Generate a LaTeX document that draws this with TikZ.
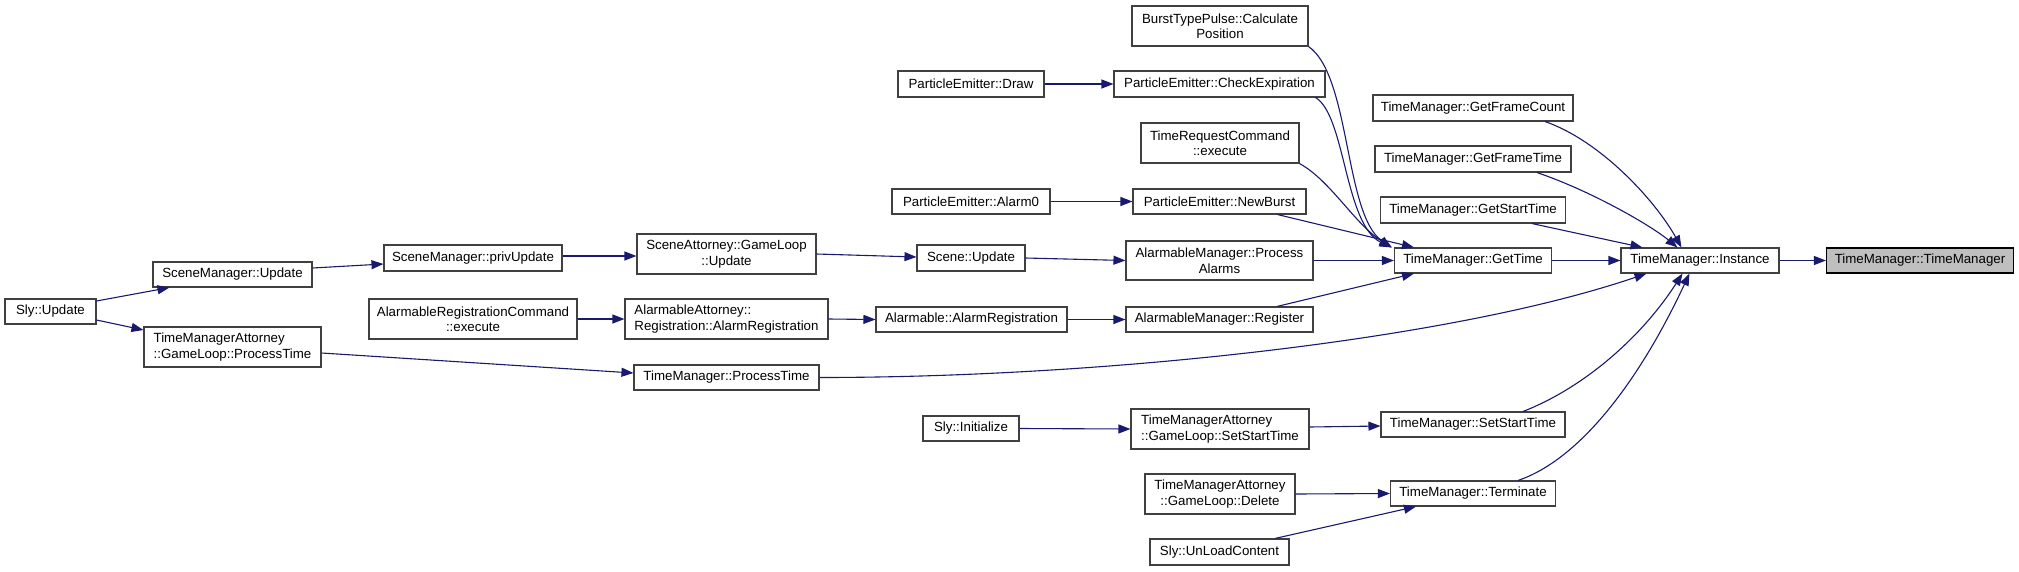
\documentclass[tikz,border=0pt]{standalone}
\usepackage{fontspec}
\setmainfont{Liberation Sans}
\usetikzlibrary{arrows.meta}
\definecolor{edgeblue}{HTML}{191970}
\definecolor{boxgray}{HTML}{404040}
\definecolor{rootfill}{HTML}{BFBFBF}
\tikzset{
  fnbox/.style={draw=boxgray, line width=1.1pt, fill=white, inner sep=0pt, align=center,
    font=\fontsize{13.3}{15.5}\selectfont},
  rootbox/.style={fnbox, draw=black, fill=rootfill},
  edge/.style={draw=edgeblue, line width=1.1pt, -{Triangle[length=12pt,width=9pt]}}
}
\begin{document}
\begin{tikzpicture}[x=1pt,y=-1pt]
\useasboundingbox (0,0) rectangle (2019,571);
% column 1
\node[fnbox, minimum width=91pt, minimum height=25pt] (slyupd) at (50.5,311.5) {Sly::Update};
% column 2
\node[fnbox, minimum width=159pt, minimum height=25pt] (smupd) at (232.5,274.5) {SceneManager::Update};
\node[fnbox, align=left, minimum width=177pt, minimum height=40pt] (tmapt) at (232.5,347) {TimeManagerAttorney\\::GameLoop::ProcessTime};
% column 3
\node[fnbox, minimum width=178pt, minimum height=26pt] (smpriv) at (473,258) {SceneManager::privUpdate};
\node[fnbox, minimum width=208pt, minimum height=40pt] (arce) at (473,319) {AlarmableRegistrationCommand\\::execute};
% column 4
\node[fnbox, minimum width=179pt, minimum height=40pt] (sagl) at (726.5,254) {SceneAttorney::GameLoop\\::Update};
\node[fnbox, align=left, minimum width=203pt, minimum height=40pt] (aara) at (726.5,319) {AlarmableAttorney::\\Registration::AlarmRegistration};
\node[fnbox, minimum width=185pt, minimum height=25pt] (tmpt) at (726.5,377.5) {TimeManager::ProcessTime};
% column 5
\node[fnbox, minimum width=146pt, minimum height=26pt] (pedraw) at (971,84) {ParticleEmitter::Draw};
\node[fnbox, minimum width=158pt, minimum height=25pt] (pea0) at (971,201.5) {ParticleEmitter::Alarm0};
\node[fnbox, minimum width=108pt, minimum height=26pt] (scupd) at (971,258) {Scene::Update};
\node[fnbox, minimum width=191pt, minimum height=25pt] (aar) at (971.5,319.5) {Alarmable::AlarmRegistration};
\node[fnbox, minimum width=96pt, minimum height=25pt] (slyinit) at (971,428.5) {Sly::Initialize};
% column 6
\node[fnbox, minimum width=176pt, minimum height=40pt] (btp) at (1220,26) {BurstTypePulse::Calculate\\Position};
\node[fnbox, minimum width=211pt, minimum height=26pt] (pece) at (1219.5,84) {ParticleEmitter::CheckExpiration};
\node[fnbox, minimum width=158pt, minimum height=40pt] (trce) at (1220,143) {TimeRequestCommand\\::execute};
\node[fnbox, minimum width=173pt, minimum height=25pt] (penb) at (1219.5,201.5) {ParticleEmitter::NewBurst};
\node[fnbox, minimum width=187pt, minimum height=39pt] (ampa) at (1219.5,260.5) {AlarmableManager::Process\\Alarms};
\node[fnbox, minimum width=187pt, minimum height=25pt] (amreg) at (1219.5,319.5) {AlarmableManager::Register};
\node[fnbox, align=left, minimum width=178pt, minimum height=40pt] (tmasst) at (1220,429) {TimeManagerAttorney\\::GameLoop::SetStartTime};
\node[fnbox, minimum width=150pt, minimum height=40pt] (tmadel) at (1220,494) {TimeManagerAttorney\\::GameLoop::Delete};
\node[fnbox, minimum width=139pt, minimum height=26pt] (slyunl) at (1219.5,552) {Sly::UnLoadContent};
% column 7
\node[fnbox, minimum width=200pt, minimum height=26pt] (gfc) at (1473,108) {TimeManager::GetFrameCount};
\node[fnbox, minimum width=196pt, minimum height=26pt] (gft) at (1473,159) {TimeManager::GetFrameTime};
\node[fnbox, minimum width=185pt, minimum height=26pt] (gst) at (1473,210) {TimeManager::GetStartTime};
\node[fnbox, minimum width=157pt, minimum height=25pt] (gt) at (1473,260.5) {TimeManager::GetTime};
\node[fnbox, minimum width=184pt, minimum height=25pt] (sst) at (1473,424.5) {TimeManager::SetStartTime};
\node[fnbox, minimum width=165pt, minimum height=25pt] (term) at (1473,493.5) {TimeManager::Terminate};
% column 8, 9
\node[fnbox, minimum width=158pt, minimum height=25pt] (inst) at (1700,260.5) {TimeManager::Instance};
\node[rootbox, minimum width=187pt, minimum height=25pt] (tmtm) at (1920,260.5) {TimeManager::TimeManager};
% edges
\draw[edge] ([yshift=10.5pt]slyupd.east) -- ([xshift=17pt]smupd.south west);
\draw[edge] ([yshift=-8.5pt]slyupd.east) -- ([yshift=17pt]tmapt.west);
\draw[edge] ([yshift=6.5pt]smupd.east) -- ([yshift=-6pt]smpriv.west);
\draw[edge] ([yshift=2pt]smpriv.east) -- ([yshift=-2pt]sagl.west);
\draw[edge] (sagl.east) -- ([yshift=1pt]scupd.west);
\draw[edge] (scupd.east) -- (ampa.west);
\draw[edge] (ampa.east) -- (gt.west);
\draw[edge] (arce.east) -- (aara.west);
\draw[edge] (aara.east) -- (aar.west);
\draw[edge] (aar.east) -- (amreg.west);
\draw[edge] ([xshift=57.5pt]amreg.north) -- ([xshift=20pt]gt.south west);
\draw[edge] ([yshift=-6pt]tmapt.east) -- ([yshift=4.5pt]tmpt.west);
\draw[edge] (tmpt.east) .. controls +(281,0) and +(-197,67) .. ([xshift=26pt]inst.south west);
\draw[edge] (pedraw.east) -- (pece.west);
\draw[edge] (btp.south east) .. controls +(42,29) and +(-47,-33) .. ([xshift=-2.6pt]gt.north west);
\draw[edge] ([xshift=-10pt]pece.south east) .. controls +(30,18) and +(-47,-23) .. ([xshift=-2.6pt]gt.north west);
\draw[edge] (trce.south east) .. controls +(31,17) and +(-37,-23) .. ([xshift=-2pt]gt.north west);
\draw[edge] (pea0.east) -- (penb.west);
\draw[edge] ([xshift=-29pt]penb.south east) -- ([xshift=20pt]gt.north west);
\draw[edge] ([xshift=72pt]gfc.south) .. controls +(55,19) and +(-27,-48) .. ([xshift=61pt]inst.north west);
\draw[edge] ([xshift=64pt]gft.south) .. controls +(53,18) and +(-28,-23) .. ([xshift=57pt]inst.north west);
\draw[edge] ([xshift=59pt]gst.south) -- ([xshift=22pt]inst.north west);
\draw[edge] (gt.east) -- (inst.west);
\draw[edge] (inst.east) -- (tmtm.west);
\draw[edge] ([xshift=50pt]sst.north) .. controls +(57,-22) and +(-43,67) .. ([xshift=62pt]inst.south west);
\draw[edge] ([xshift=45pt]term.north) .. controls +(62,-21) and +(-50,107) .. ([xshift=69pt]inst.south west);
\draw[edge] (slyinit.east) -- (tmasst.west);
\draw[edge] ([yshift=2pt]tmasst.east) -- ([yshift=-1.5pt]sst.west);
\draw[edge] (tmadel.east) -- (term.west);
\draw[edge] ([xshift=55.5pt]slyunl.north) -- ([xshift=26pt]term.south west);
\end{tikzpicture}
\end{document}
